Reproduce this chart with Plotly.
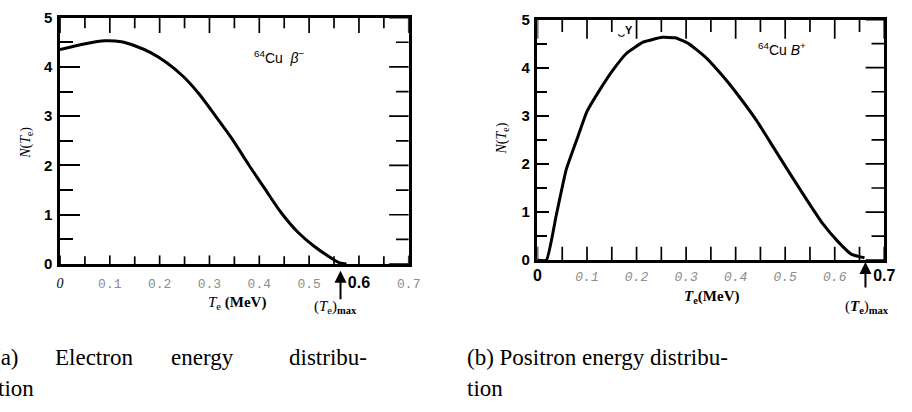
import plotly.graph_objects as go

W, H = 912, 412

# ---- data ----
electron_T = [0.0, 0.051, 0.09, 0.123, 0.15, 0.182, 0.215, 0.248, 0.28, 0.313, 0.346,
              0.379, 0.411, 0.444, 0.477, 0.51, 0.543, 0.562, 0.575]
electron_N = [4.35, 4.47, 4.53, 4.51, 4.43, 4.29, 4.08, 3.80, 3.44, 2.99, 2.53,
              2.01, 1.53, 1.04, 0.65, 0.36, 0.13, 0.02, 0.0]

positron_T = [0.0, 0.018, 0.038, 0.058, 0.081, 0.10, 0.127, 0.153, 0.18, 0.213, 0.252,
              0.278, 0.305, 0.338, 0.377, 0.41, 0.443, 0.476, 0.509, 0.542, 0.575,
              0.608, 0.634, 0.66]
positron_N = [0.0, 0.0, 0.94, 1.88, 2.55, 3.09, 3.56, 3.96, 4.30, 4.53, 4.63,
              4.62, 4.50, 4.23, 3.79, 3.36, 2.89, 2.35, 1.81, 1.28, 0.77,
              0.37, 0.12, 0.05]

x_ticks = [0.0, 0.1, 0.2, 0.3, 0.4, 0.5, 0.6, 0.7]
x_minor = [0.05, 0.15, 0.25, 0.35, 0.45, 0.55, 0.65]
y_ticks = [0, 1, 2, 3, 4, 5]
y_minor = [0.5, 1.5, 2.5, 3.5, 4.5]
y_ticktext = ["0", "1", "2", "3", "4", "5"]

BOLD = '<b><span style="font-family:Liberation Sans;font-size:16px;color:black;font-style:normal">{}</span></b>'
ITAL0 = '<i><span style="font-family:Liberation Serif;font-size:14px;color:black">{}</span></i>'

left_xtext = [ITAL0.format("0"), "0.1", "0.2", "0.3", "0.4", "0.5", BOLD.format("0.6"), "0.7"]
right_xtext = [BOLD.format("0"), "<i>0.1</i>", "<i>0.2</i>", "<i>0.3</i>", "<i>0.4</i>",
               "<i>0.5</i>", "<i>0.6</i>", BOLD.format("0.7")]

tmax_electron = 0.563
tmax_positron = 0.662

X_MAX, Y_MAX = 0.7, 5

# plot-area pixel boxes (left, right, top, bottom)
LEFT_BOX = (57, 412, 9, 266)
RIGHT_BOX = (543, 896, 11, 262)


def px(p):
    return p / W


def py(p):
    return 1 - p / H


fig = go.Figure()
fig.add_trace(go.Scatter(x=electron_T, y=electron_N, mode="lines",
                         line=dict(color="black", width=3, shape="spline", smoothing=0.8),
                         xaxis="x", yaxis="y", showlegend=False))
fig.add_trace(go.Scatter(x=positron_T, y=positron_N, mode="lines",
                         line=dict(color="black", width=3, shape="spline", smoothing=0.4),
                         xaxis="x2", yaxis="y2", showlegend=False))


def frame_ticks(box, xa, ya, top, top_m, bot, bot_m, right, right_m, width=1.7):
    """Tick marks on the frame, built from the tick arrays, lengths given in pixels."""
    l, r, t, b = box
    ux = X_MAX / (r - l)  # data units per pixel
    uy = Y_MAX / (b - t)
    xs, ys = [], []
    for vals, ln in ((x_ticks, top), (x_minor, top_m)):
        for v in vals:
            xs += [v, v, None]
            ys += [Y_MAX, Y_MAX - ln * uy, None]
    for vals, ln in ((x_ticks, bot), (x_minor, bot_m)):
        for v in vals:
            xs += [v, v, None]
            ys += [0, ln * uy, None]
    for vals, ln in ((y_ticks, right), (y_minor, right_m)):
        for v in vals:
            xs += [X_MAX, X_MAX - ln * ux, None]
            ys += [v, v, None]
    fig.add_trace(go.Scatter(x=xs, y=ys, mode="lines", xaxis=xa, yaxis=ya,
                             line=dict(color="black", width=width), showlegend=False,
                             hoverinfo="skip"))


frame_ticks(LEFT_BOX, "x", "y", 16, 11, 9, 8, 20, 13)
frame_ticks(RIGHT_BOX, "x2", "y2", 20, 13, 14, 14, 19, 13)

TICK = dict(tickcolor="black", showgrid=False, zeroline=False, fixedrange=True,
            tickmode="array")


def xaxis(box, anchor, ticktext, standoff):
    return dict(domain=[px(box[0]), px(box[1])], anchor=anchor, range=[0, X_MAX],
                showline=True, linewidth=2.5, linecolor="black", mirror=True, ticks="",
                tickvals=x_ticks, ticktext=ticktext, ticklabelstandoff=standoff,
                tickfont=dict(family="Liberation Mono", size=13, color="#8c8c8c"), **TICK)


def yaxis(box, anchor, ticklen, mticklen):
    return dict(domain=[py(box[3]), py(box[2])], anchor=anchor, range=[0, Y_MAX],
                showline=True, linewidth=2.5, linecolor="black", mirror=True,
                ticks="inside", ticklen=ticklen, tickwidth=1.8, tickvals=y_ticks,
                ticktext=y_ticktext, ticklabelstandoff=2,
                tickfont=dict(family="Liberation Sans", size=15, color="black", weight="bold"),
                minor=dict(ticks="inside", ticklen=mticklen, tickwidth=1.6,
                           tickcolor="black", tickvals=y_minor, showgrid=False), **TICK)


annotations = []


def ann(x, y, text, size=14, family="Liberation Sans", angle=0, xanchor="center",
        color="black"):
    annotations.append(dict(x=px(x), y=py(y), xref="paper", yref="paper", text=text,
                            showarrow=False, xanchor=xanchor, yanchor="middle",
                            textangle=angle, font=dict(size=size, family=family, color=color)))


# axis titles and labels
ann(23, 140, "<i>N</i>(<i>T</i><sub>e</sub>)", size=14, family="Liberation Serif", angle=-90)
ann(507, 135, "<i>N</i>(<i>T</i><sub>e</sub>)", size=14, family="Liberation Serif", angle=-90)
ann(237, 307, "<i>T</i><sub>e</sub> <b>(MeV)</b>", size=15, family="Liberation Serif")
ann(720, 300, "<b><i>T</i><sub>e</sub></b><b>(MeV)</b>", size=15, family="Liberation Serif")
ann(337, 311, "(<i>T</i><sub>e</sub>)<b><sub>max</sub></b>", size=15, family="Liberation Serif")
ann(878, 311, "(<b><i>T</i><sub>e</sub></b>)<b><sub>max</sub></b>", size=15, family="Liberation Serif")
ann(280, 50, "<sup>64</sup>Cu&nbsp;&nbsp;<i>β</i><sup>−</sup>", size=14)
ann(792, 42, "<sup>64</sup>Cu <i>B</i><sup>+</sup>", size=14)
ann(632, 22, "<b>‿Y</b>", size=11)

# captions
CAP = dict(size=23, family="Liberation Serif")
ann(17, 364, "(a)", xanchor="right", **CAP)
ann(50, 364, "Electron", xanchor="left", **CAP)
ann(168, 364, "energy", xanchor="left", **CAP)
ann(372, 364, "distribu-", xanchor="right", **CAP)
ann(-8, 396, "tion", xanchor="left", **CAP)
ann(469, 364, "(b) Positron energy distribu-", xanchor="left", **CAP)
ann(469, 396, "tion", xanchor="left", **CAP)

# arrows marking (Te)max
annotations.append(dict(x=tmax_electron, y=py(273), xref="x", yref="paper", text="",
                        showarrow=True, arrowhead=2, arrowsize=1.2, arrowwidth=2,
                        arrowcolor="black", ax=0, ay=30))
annotations.append(dict(x=tmax_positron, y=py(264), xref="x2", yref="paper", text="",
                        showarrow=True, arrowhead=2, arrowsize=1.2, arrowwidth=2,
                        arrowcolor="black", ax=0, ay=27))

fig.update_layout(
    width=W, height=H, margin=dict(l=0, r=0, t=0, b=0),
    paper_bgcolor="white", plot_bgcolor="white",
    xaxis=xaxis(LEFT_BOX, "y", left_xtext, 6),
    yaxis=yaxis(LEFT_BOX, "x", 20, 13),
    xaxis2=xaxis(RIGHT_BOX, "y2", right_xtext, 2),
    yaxis2=yaxis(RIGHT_BOX, "x2", 12, 10),
    annotations=annotations,
    showlegend=False,
)

fig.write_html("out.html")
